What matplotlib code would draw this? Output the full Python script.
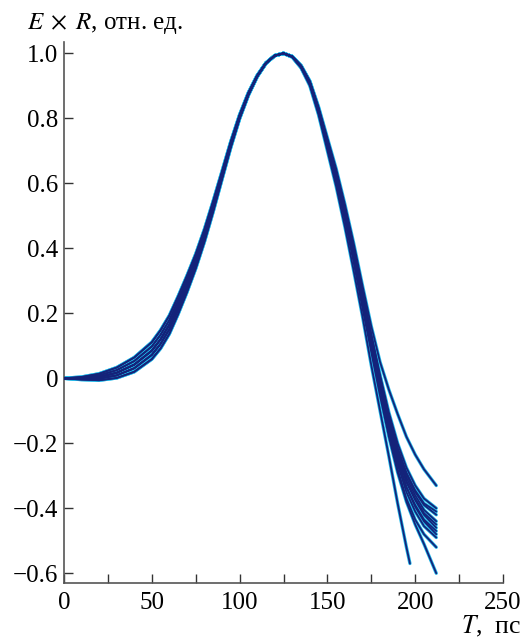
import matplotlib
matplotlib.use("Agg")
import matplotlib.pyplot as plt

plt.rcParams["font.family"] = ["Liberation Serif", "DejaVu Serif"]
plt.rcParams["mathtext.fontset"] = "stix"

# time grid, ps
t_ps = [0, 10, 20, 30, 40, 50, 55, 60, 65, 70, 75, 80, 85, 90, 95, 100, 105, 110, 115, 120,
        125, 130, 135, 140, 145, 150, 155, 160, 165, 170,
        175, 180, 185, 190, 195, 200, 205, 212]

# normalised E x R pulses (one row per curve)
pulses = [
    [0, -0.002, -0.001, 0.009, 0.031, 0.072, 0.106, 0.151, 0.212, 0.278, 0.349, 0.43, 0.522, 0.619, 0.716, 0.802, 0.873, 0.929, 0.97, 0.993,
     1.0, 0.991, 0.963, 0.915, 0.835, 0.74, 0.645, 0.535, 0.415, 0.285,
     0.16, 0.05, -0.035, -0.11, -0.18, -0.235, -0.28, -0.33],
    [0, 0.004, 0.014, 0.033, 0.064, 0.111, 0.148, 0.193, 0.252, 0.315, 0.382, 0.459, 0.546, 0.637, 0.729, 0.811, 0.879, 0.932, 0.971, 0.993,
     1.0, 0.99, 0.962, 0.913, 0.83, 0.732, 0.635, 0.522, 0.40, 0.267,
     0.135, 0.01, -0.105, -0.20, -0.275, -0.33, -0.37, -0.40],
    [0, 0.0, 0.004, 0.017, 0.042, 0.085, 0.12, 0.165, 0.225, 0.29, 0.36, 0.44, 0.53, 0.625, 0.72, 0.805, 0.875, 0.93, 0.97, 0.993,
     1.0, 0.99, 0.96, 0.91, 0.825, 0.725, 0.625, 0.51, 0.385, 0.25,
     0.12, -0.003, -0.12, -0.215, -0.29, -0.345, -0.385, -0.41],
    [0, -0.004, -0.006, 0.001, 0.02, 0.059, 0.092, 0.137, 0.198, 0.265, 0.338, 0.421, 0.514, 0.613, 0.711, 0.799, 0.871, 0.928, 0.969, 0.993,
     1.0, 0.99, 0.962, 0.913, 0.83, 0.732, 0.635, 0.522, 0.40, 0.267,
     0.135, 0.005, -0.115, -0.215, -0.295, -0.35, -0.39, -0.42],
    [0, 0.002, 0.009, 0.025, 0.053, 0.098, 0.134, 0.179, 0.239, 0.303, 0.371, 0.45, 0.538, 0.631, 0.725, 0.808, 0.877, 0.931, 0.97, 0.993,
     1.0, 0.99, 0.96, 0.91, 0.825, 0.725, 0.625, 0.51, 0.385, 0.25,
     0.117, -0.007, -0.127, -0.228, -0.305, -0.36, -0.405, -0.44],
    [0, 0.0, 0.004, 0.017, 0.042, 0.085, 0.12, 0.165, 0.225, 0.29, 0.36, 0.44, 0.53, 0.625, 0.72, 0.805, 0.875, 0.93, 0.97, 0.993,
     1.0, 0.99, 0.96, 0.91, 0.825, 0.725, 0.625, 0.51, 0.385, 0.25,
     0.115, -0.01, -0.13, -0.235, -0.315, -0.37, -0.415, -0.45],
    [0, -0.004, -0.006, 0.001, 0.02, 0.059, 0.092, 0.137, 0.198, 0.265, 0.338, 0.421, 0.514, 0.613, 0.711, 0.799, 0.871, 0.928, 0.969, 0.993,
     1.0, 0.99, 0.96, 0.91, 0.825, 0.725, 0.625, 0.51, 0.385, 0.25,
     0.115, -0.01, -0.135, -0.24, -0.32, -0.375, -0.42, -0.46],
    [0, 0.004, 0.014, 0.033, 0.064, 0.111, 0.148, 0.193, 0.252, 0.315, 0.382, 0.459, 0.546, 0.637, 0.729, 0.811, 0.879, 0.932, 0.971, 0.993,
     1.0, 0.99, 0.958, 0.907, 0.82, 0.718, 0.615, 0.498, 0.37, 0.233,
     0.10, -0.025, -0.15, -0.255, -0.335, -0.39, -0.435, -0.47],
    [0, -0.002, -0.001, 0.009, 0.031, 0.072, 0.106, 0.151, 0.212, 0.278, 0.349, 0.43, 0.522, 0.619, 0.716, 0.802, 0.873, 0.929, 0.97, 0.993,
     1.0, 0.99, 0.96, 0.91, 0.825, 0.725, 0.625, 0.51, 0.385, 0.25,
     0.112, -0.015, -0.14, -0.25, -0.335, -0.395, -0.44, -0.48],
    [0, 0.002, 0.009, 0.025, 0.053, 0.098, 0.134, 0.179, 0.239, 0.303, 0.371, 0.45, 0.538, 0.631, 0.725, 0.808, 0.877, 0.931, 0.97, 0.993,
     1.0, 0.99, 0.958, 0.907, 0.82, 0.718, 0.615, 0.498, 0.37, 0.233,
     0.098, -0.028, -0.155, -0.265, -0.35, -0.41, -0.455, -0.49],
    [0, 0.0, 0.004, 0.017, 0.042, 0.085, 0.12, 0.165, 0.225, 0.29, 0.36, 0.44, 0.53, 0.625, 0.72, 0.805, 0.875, 0.93, 0.97, 0.993,
     1.0, 0.99, 0.958, 0.907, 0.82, 0.718, 0.615, 0.498, 0.37, 0.233,
     0.095, -0.035, -0.165, -0.28, -0.37, -0.435, -0.48, -0.52],
    [0, -0.002, -0.001, 0.009, 0.031, 0.072, 0.106, 0.151, 0.212, 0.278, 0.349, 0.43, 0.522, 0.619, 0.716, 0.802, 0.873, 0.929, 0.97, 0.993,
     1.0, 0.989, 0.957, 0.905, 0.815, 0.71, 0.605, 0.485, 0.355, 0.215,
     0.08, -0.055, -0.18, -0.29, -0.38, -0.45, -0.51, -0.60],
]

# one curve stops earlier
t_short = [0, 10, 20, 30, 40, 50, 55, 60, 65, 70, 75, 80, 85, 90, 95, 100, 105, 110, 115, 120,
           125, 130, 135, 140, 145, 150, 155, 160, 165, 170,
           175, 180, 185, 190, 195, 197]
pulse_short = [0, 0.0, 0.004, 0.017, 0.042, 0.085, 0.12, 0.165, 0.225, 0.29, 0.36, 0.44, 0.53, 0.625, 0.72, 0.805, 0.875, 0.93, 0.97, 0.993,
               1.0, 0.988, 0.955, 0.90, 0.81, 0.70, 0.59, 0.465, 0.33, 0.19,
               0.04, -0.10, -0.24, -0.385, -0.52, -0.57]

x_ticks = [0, 50, 100, 150, 200, 250]
x_minor = [25, 75, 125, 175, 225]
y_ticks = [-0.6, -0.4, -0.2, 0, 0.2, 0.4, 0.6, 0.8, 1.0]
y_labels = ["\u22120.6", "\u22120.4", "\u22120.2", "0", "0.2", "0.4", "0.6", "0.8", "1.0"]

fig = plt.figure(figsize=(5.26, 6.39), dpi=100)
ax = fig.add_axes([64 / 526, 56 / 639, (503 - 64) / 526, (583 - 42) / 639])

all_curves = [(t_ps, p) for p in pulses] + [(t_short, pulse_short)]
for t, p in all_curves:
    ax.plot(t, p, color="#22b8e8", lw=2.4, solid_capstyle="round", solid_joinstyle="round", zorder=2)
for t, p in all_curves:
    ax.plot(t, p, color="#14237a", lw=1.3, solid_capstyle="round", solid_joinstyle="round", zorder=3)

ax.set_xlim(0, 250)
ax.set_ylim(-0.63, 1.035)

ax.spines["top"].set_visible(False)
ax.spines["right"].set_visible(False)
for s in ("left", "bottom"):
    ax.spines[s].set_color("#555555")
    ax.spines[s].set_linewidth(1.2)

ax.set_xticks(x_ticks)
ax.set_xticklabels([str(v) for v in x_ticks])
ax.set_xticks(x_minor, minor=True)
ax.set_yticks(y_ticks)
ax.set_yticklabels(y_labels)
ax.tick_params(which="both", direction="in", length=6.5, width=1.0, color="#333333",
               labelsize=18, pad=6.5)
ax.tick_params(axis="y", pad=4)

fig.text(27 / 526, 1 - 29 / 639, r"$E\;\times\;R$, отн. ед.", fontsize=18, va="baseline", ha="left")
fig.text(521 / 526, 1 - 633 / 639, r"$T$,  пс", fontsize=18.5, va="baseline", ha="right")

fig.savefig("out.png", dpi=100)
